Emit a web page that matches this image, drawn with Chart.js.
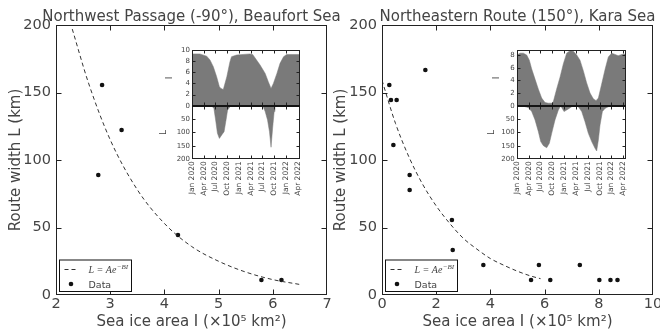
<!DOCTYPE html>
<html>
<head>
<meta charset="utf-8">
<script src="https://cdn.jsdelivr.net/npm/chart.js@4.4.0/dist/chart.umd.min.js"></script>
<style>
  body { margin: 0; background: #fff; }
  #wrap { position: relative; width: 660px; height: 333px; overflow: hidden; }
  canvas { position: absolute; }
</style>
</head>
<body>
<div id="wrap">
  <canvas id="mainNW" width="360" height="333" style="left:0;top:0;width:360px;height:333px"></canvas>
  <canvas id="mainNE" width="330" height="333" style="left:330px;top:0;width:330px;height:333px"></canvas>
  <canvas id="insetNW" width="160" height="160" style="left:150px;top:40px;width:160px;height:160px"></canvas>
  <canvas id="insetNE" width="160" height="160" style="left:475px;top:40px;width:160px;height:160px"></canvas>
</div>
<script>
// route width vs sea ice area
const nwIce = [2.78, 2.85, 3.21, 4.25, 5.79, 6.16];
const nwWidth = [88.9, 155.6, 122.2, 44.4, 11.1, 11.1];
const nwFitIce = [2.3, 2.6, 3.0, 3.5, 4.0, 4.5, 5.0, 5.5, 6.0, 6.5];
const nwFitWidth = [197, 157, 115, 78, 53, 36, 25, 17, 11.4, 7.8];

const neIce = [0.27, 0.33, 0.54, 0.42, 1.6, 1.02, 1.02, 2.58, 2.61, 3.74, 5.5, 5.79, 6.21, 7.3, 8.02, 8.43, 8.69];
const neWidth = [155.6, 144.4, 144.4, 111.1, 166.7, 88.9, 77.8, 55.6, 33.3, 22.2, 11.1, 22.2, 11.1, 22.2, 11.1, 11.1, 11.1];
const neFitIce = [0, 0.5, 1, 1.5, 2, 2.5, 3, 3.5, 4, 4.5, 5, 5.5, 5.85];
const neFitWidth = [159, 127, 102, 82, 66, 53, 42, 34, 27, 22, 17.6, 14, 12.1];

// inset time series (months since Jan 2020)
const insetTickMonths = [0, 3, 6, 9, 12, 15, 18, 21, 24, 27];
const insetTickLabels = ["Jan 2020", "Apr 2020", "Jul 2020", "Oct 2020", "Jan 2021",
  "Apr 2021", "Jul 2021", "Oct 2021", "Jan 2022", "Apr 2022"];
const nwIceTicks = [0, 2, 4, 6, 8, 10];
const neIceTicks = [0, 2, 4, 6, 8];
const widthTicks = [0, 50, 100, 150, 200];

const nwIceMonth = [0, 2.0, 3.75, 4.6, 5.45, 6.3, 7.0, 7.4, 8.0, 8.9, 9.7, 10.1, 11.4, 14.8, 15.5,
  16.5, 17.4, 18.7, 19.5, 20.2, 20.8, 21.7, 22.5, 23.4, 24.2, 27.6];
const nwIceArea = [9.3, 9.3, 8.9, 8.2, 7.0, 5.2, 3.4, 3.1, 2.9, 5.2, 7.9, 8.8, 9.1, 9.3, 9.2,
  8.2, 7.3, 5.8, 4.3, 3.1, 4.0, 5.8, 7.6, 8.8, 9.2, 9.2];
const nwWidthMonth = [0, 5.0, 5.6, 6.1, 6.5, 7.0, 7.6, 8.2, 8.7, 9.1, 9.7, 10.1,
  18.1, 18.7, 19.3, 19.8, 20.2, 20.6, 21.0, 21.2, 21.5, 27.6];
const nwWidthKm = [0, 0, 10, 60, 103, 122, 109, 97, 53, 16, 4, 0,
  0, 22, 53, 97, 155, 84, 22, 4, 0, 0];

const neIceMonth = [0, 0.84, 1.69, 2.53, 3.2, 3.8, 4.64, 5.49, 6.33, 7.17, 8.0, 8.86, 9.28, 10.1,
  10.97, 11.8, 12.66, 13.5, 14.35, 15.2, 16.03, 16.88, 17.72, 18.57, 19.4, 20.08, 20.68, 21.5,
  22.4, 23.2, 24.05, 24.9, 25.7, 26.6, 27.6];
const neIceArea = [8.0, 8.3, 8.3, 8.0, 7.2, 5.8, 4.2, 2.6, 1.2, 0.5, 0.4, 0.4, 0.65, 2.6,
  4.5, 6.6, 8.3, 8.7, 8.6, 8.0, 7.2, 5.5, 3.6, 2.0, 1.1, 0.8, 1.2, 3.4,
  5.8, 7.7, 8.3, 8.1, 7.9, 8.1, 8.15];
const neWidthMonth = [0, 1.69, 2.95, 3.8, 4.64, 5.49, 6.08, 6.75, 7.6, 8.27, 8.86, 9.7, 10.55,
  11.14, 11.98, 13.08, 13.92, 14.77, 15.6, 16.46, 17.3, 18.14, 18.99, 19.83, 20.25, 20.68,
  21.1, 21.7, 22.36, 23.2, 24.5, 25.3, 27.6];
const neWidthKm = [0, 2, 7, 22, 53, 97, 134, 149, 157, 140, 103, 53, 16,
  0, 22, 12, 4, 0, 4, 22, 60, 103, 134, 159, 169, 128,
  72, 22, 10, 4, 1, 0, 0];

const textColor = "#444";
const family = '"DejaVu Sans", sans-serif';
const fillGray = "#7a7a7a";

function pts(xs, ys) {
  return xs.map((x, i) => ({ x: x, y: ys[i] }));
}
function noPad(s) {
  s.paddingLeft = 0; s.paddingRight = 0; s.paddingTop = 0; s.paddingBottom = 0;
}
function fixedTicks(values) {
  return (s) => { s.ticks = values.map((v) => ({ value: v })); };
}

// box round each panel with inward ticks on all four sides
const frameTicks = {
  id: "frameTicks",
  afterDatasetsDraw(chart, args, opts) {
    const { ctx, chartArea: ca } = chart;
    const xs = chart.scales.x;
    const len = opts.len;
    ctx.save();
    ctx.strokeStyle = opts.color;
    ctx.lineWidth = 1;
    const left = Math.round(ca.left) + 0.5, right = Math.round(ca.right) - 0.5;
    for (const id of opts.panels) {
      const ys = chart.scales[id];
      const top = Math.round(ys.top) + 0.5, bottom = Math.round(ys.bottom) - 0.5;
      ctx.beginPath();
      for (const t of xs.ticks) {
        const px = Math.round(xs.getPixelForValue(t.value)) + 0.5;
        if (px <= left + 1 || px >= right - 1) continue;
        ctx.moveTo(px, bottom); ctx.lineTo(px, bottom - len);
        ctx.moveTo(px, top); ctx.lineTo(px, top + len);
      }
      for (const t of ys.ticks) {
        const py = Math.round(ys.getPixelForValue(t.value)) + 0.5;
        if (py <= top + 1 || py >= bottom - 1) continue;
        ctx.moveTo(left, py); ctx.lineTo(left + len, py);
        ctx.moveTo(right, py); ctx.lineTo(right - len, py);
      }
      ctx.stroke();
      ctx.strokeRect(left, top, right - left, bottom - top);
    }
    if (opts.junction) {
      const y = Math.round(chart.scales[opts.junction].bottom);
      ctx.lineWidth = 1.6;
      ctx.strokeStyle = "#111";
      ctx.beginPath();
      ctx.moveTo(left - 0.5, y); ctx.lineTo(right + 0.5, y);
      ctx.stroke();
    }
    ctx.restore();
  }
};

const panelTitle = {
  id: "panelTitle",
  afterDraw(chart, args, opts) {
    if (!opts.text) return;
    const { ctx, chartArea: ca } = chart;
    ctx.save();
    ctx.font = "15px " + family;
    ctx.fillStyle = textColor;
    ctx.textAlign = "center";
    ctx.textBaseline = "alphabetic";
    ctx.fillText(opts.text, (ca.left + ca.right) / 2, 20.5);
    ctx.restore();
  }
};

// framed legend in the lower left corner
const boxLegend = {
  id: "boxLegend",
  afterDraw(chart, args, opts) {
    if (!opts.show) return;
    const { ctx, chartArea: ca } = chart;
    const w = 72, h = 31.5;
    const x0 = Math.round(ca.left) + 3.5, y0 = Math.round(ca.bottom) - 3.5 - h;
    ctx.save();
    ctx.fillStyle = "#fff";
    ctx.fillRect(x0, y0, w, h);
    ctx.strokeStyle = "#111";
    ctx.lineWidth = 1;
    ctx.strokeRect(x0, y0, w, h);
    ctx.strokeStyle = "#333";
    ctx.setLineDash([4, 3]);
    ctx.beginPath();
    ctx.moveTo(x0 + 5, y0 + 9.5); ctx.lineTo(x0 + 19, y0 + 9.5);
    ctx.stroke();
    ctx.setLineDash([]);
    ctx.fillStyle = textColor;
    ctx.font = 'italic 10px "Liberation Serif", serif';
    ctx.textBaseline = "alphabetic";
    const t1 = "L = Ae";
    ctx.fillText(t1, x0 + 29, y0 + 12.5);
    const w1 = ctx.measureText(t1).width;
    ctx.font = 'italic 7px "Liberation Serif", serif';
    ctx.fillText("\u2212BI", x0 + 29 + w1 + 0.5, y0 + 8.5);
    ctx.fillStyle = "#111";
    ctx.beginPath();
    ctx.arc(x0 + 11.5, y0 + 24, 2.3, 0, Math.PI * 2);
    ctx.fill();
    ctx.fillStyle = textColor;
    ctx.font = "9.5px " + family;
    ctx.fillText("Data", x0 + 29, y0 + 27.5);
    ctx.restore();
  }
};

Chart.register(frameTicks, panelTitle, boxLegend);

function mainChart(id, cfg) {
  new Chart(document.getElementById(id), {
    type: "scatter",
    data: {
      datasets: [
        {
          type: "line",
          label: "fit",
          data: pts(cfg.fitX, cfg.fitY),
          borderColor: "#333",
          borderWidth: 1,
          borderDash: [4, 3],
          pointRadius: 0,
          cubicInterpolationMode: "monotone",
          fill: false
        },
        {
          label: "Data",
          data: pts(cfg.x, cfg.y),
          backgroundColor: "#111",
          borderColor: "#111",
          pointRadius: 2.3,
          pointBorderWidth: 0
        }
      ]
    },
    options: {
      responsive: false,
      animation: false,
      devicePixelRatio: 1,
      layout: { padding: { top: 25, right: cfg.padRight, bottom: 0, left: 0 } },
      scales: {
        x: {
          type: "linear",
          min: cfg.xMin,
          max: cfg.xMax,
          ticks: { stepSize: cfg.xStep, color: textColor, font: { size: 14.5, family: family }, padding: 1, maxRotation: 0 },
          grid: { display: false, drawTicks: false },
          border: { display: false },
          title: { display: true, text: "Sea ice area I (\u00d710\u2075 km\u00b2)", color: textColor,
            font: { size: 15, family: family }, padding: { top: 0, bottom: 2 } },
          afterFit: (s) => { s.height = 38; noPad(s); }
        },
        y: {
          min: 0,
          max: 200,
          ticks: { stepSize: 50, color: textColor, font: { size: 14.5, family: family }, padding: 5 },
          grid: { display: false, drawTicks: false },
          border: { display: false },
          title: { display: true, text: "Route width L (km)", color: textColor,
            font: { size: 15, family: family }, padding: { top: cfg.yTitlePad, bottom: 0 } },
          afterFit: (s) => { s.width = cfg.yWidth; noPad(s); }
        }
      },
      plugins: {
        legend: { display: false },
        tooltip: { enabled: false },
        frameTicks: { panels: ["y"], len: 5, color: "#222" },
        panelTitle: { text: cfg.title },
        boxLegend: { show: true }
      }
    }
  });
}

function insetChart(id, cfg) {
  new Chart(document.getElementById(id), {
    type: "line",
    data: {
      datasets: [
        {
          data: pts(cfg.iceX, cfg.iceY),
          yAxisID: "yI",
          backgroundColor: fillGray,
          borderColor: fillGray,
          borderWidth: 0.5,
          pointRadius: 0,
          fill: "origin"
        },
        {
          data: pts(cfg.widthX, cfg.widthY),
          yAxisID: "yL",
          backgroundColor: fillGray,
          borderColor: fillGray,
          borderWidth: 0.5,
          pointRadius: 0,
          fill: "origin"
        }
      ]
    },
    options: {
      responsive: false,
      animation: false,
      devicePixelRatio: 1,
      layout: { padding: { top: 10, right: cfg.padRight, bottom: 0, left: 0 } },
      scales: {
        x: {
          type: "linear",
          min: 0,
          max: 27.6,
          afterBuildTicks: fixedTicks(insetTickMonths),
          ticks: {
            autoSkip: false,
            minRotation: 90,
            maxRotation: 90,
            padding: 2,
            color: textColor,
            font: { size: 7.5, family: family },
            callback: (v, i) => insetTickLabels[i]
          },
          grid: { display: false, drawTicks: false },
          border: { display: false },
          afterFit: (s) => { s.height = 40.7; noPad(s); }
        },
        yL: {
          position: "left",
          stack: "inset",
          stackWeight: 53.6,
          reverse: true,
          min: 0,
          max: 200,
          afterBuildTicks: fixedTicks(widthTicks),
          ticks: { autoSkip: false, padding: 2, color: textColor, font: { size: 7, family: family },
            callback: (v) => (v === 0 ? null : v) },
          grid: { display: false, drawTicks: false },
          border: { display: false },
          title: { display: true, text: "L", color: textColor, font: { size: 9, family: family },
            padding: { top: cfg.lPad, bottom: 0 } },
          afterFit: (s) => { s.width = cfg.yWidth; noPad(s); }
        },
        yI: {
          position: "left",
          stack: "inset",
          stackWeight: 55.7,
          min: 0,
          max: cfg.iceMax,
          afterBuildTicks: fixedTicks(cfg.iceTicks),
          ticks: { autoSkip: false, padding: 2, color: textColor, font: { size: 7, family: family } },
          grid: { display: false, drawTicks: false },
          border: { display: false },
          title: { display: true, text: "I", color: textColor, font: { size: 9, family: family },
            padding: { top: cfg.iPad, bottom: 0 } },
          afterFit: (s) => { s.width = cfg.yWidth; noPad(s); }
        }
      },
      plugins: {
        legend: { display: false },
        tooltip: { enabled: false },
        frameTicks: { panels: ["yI", "yL"], len: 3, color: "#222", junction: "yI" },
        panelTitle: { text: "" },
        boxLegend: { show: false }
      }
    }
  });
}

mainChart("mainNW", {
  x: nwIce, y: nwWidth, fitX: nwFitIce, fitY: nwFitWidth,
  xMin: 2, xMax: 7, xStep: 1, padRight: 33, yWidth: 56, yTitlePad: 7,
  title: "Northwest Passage (-90\u00b0), Beaufort Sea"
});
mainChart("mainNE", {
  x: neIce, y: neWidth, fitX: neFitIce, fitY: neFitWidth,
  xMin: 0, xMax: 10, xStep: 2, padRight: 7, yWidth: 52, yTitlePad: 2,
  title: "Northeastern Route (150\u00b0), Kara Sea"
});
insetChart("insetNW", {
  iceX: nwIceMonth, iceY: nwIceArea, widthX: nwWidthMonth, widthY: nwWidthKm,
  iceMax: 10, iceTicks: nwIceTicks, padRight: 10, yWidth: 42, iPad: 14.6, lPad: 8.6
});
insetChart("insetNE", {
  iceX: neIceMonth, iceY: neIceArea, widthX: neWidthMonth, widthY: neWidthKm,
  iceMax: 8.8, iceTicks: neIceTicks, padRight: 9.3, yWidth: 41.7, iPad: 16.3, lPad: 11.3
});
</script>
</body>
</html>
